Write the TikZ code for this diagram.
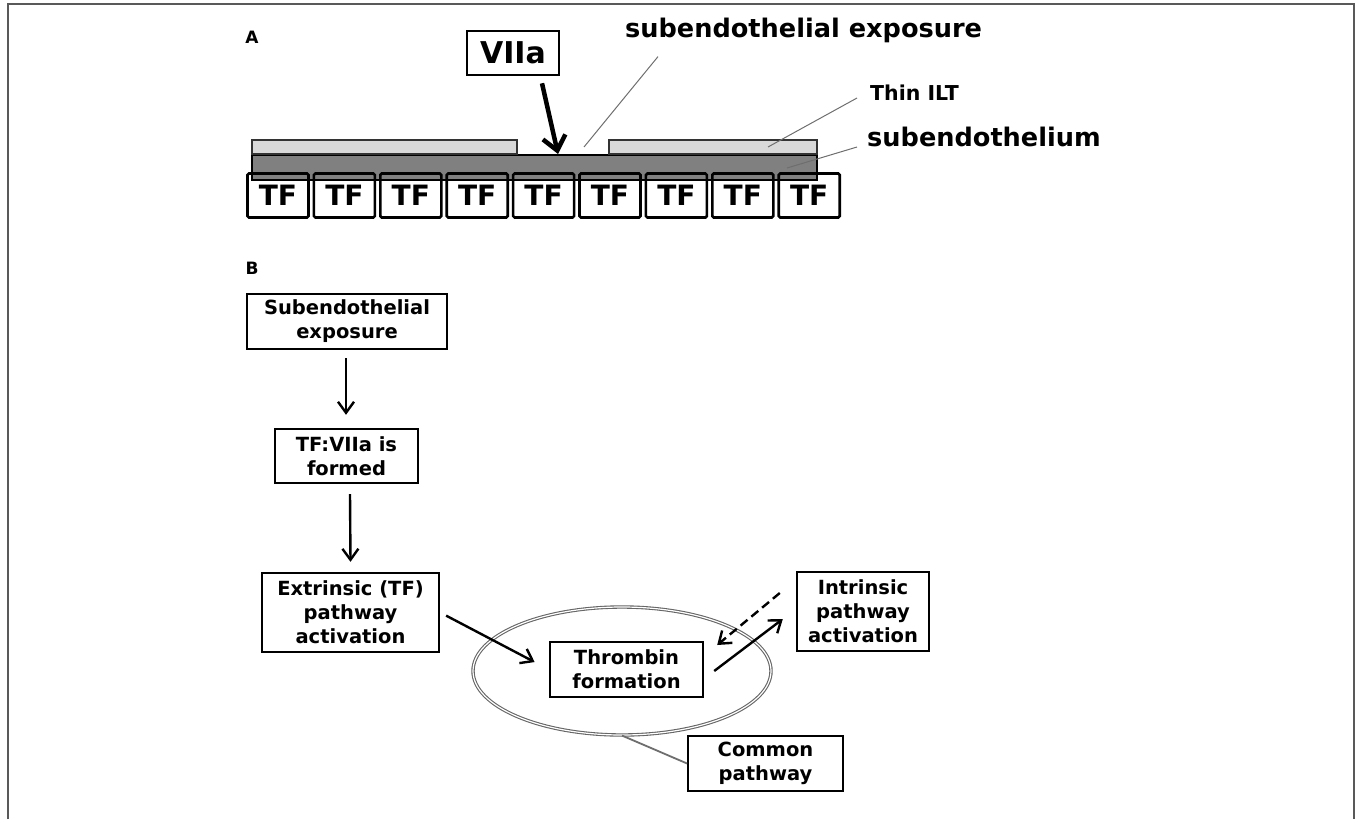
\documentclass[tikz,border=0pt]{standalone}
\usepackage{fontspec}
\setmainfont{DejaVu Sans}
\usepackage{tikz}
\usetikzlibrary{
  arrows.meta,
  shapes.geometric
}
\definecolor{ilt}{HTML}{D9D9D9}
\definecolor{subendo}{HTML}{808080}
\definecolor{leadergray}{HTML}{6E6E6E}
\tikzset{
  panel label/.style={
    font=\fontsize{17}{19}\selectfont\bfseries, inner sep=0pt
  },
  big label/.style={
    font=\fontsize{25.6}{30}\selectfont\bfseries, inner sep=0pt, anchor=west
  },
  flow box/.style={
    draw, line width=2.4pt, align=center, inner sep=0pt,
    font=\fontsize{19.5}{24}\selectfont\bfseries
  },
  tf box/.style={
    draw, line width=2.6pt, rounded corners=1.5pt, inner sep=0pt,
    minimum width=61pt, minimum height=44pt,
    font=\fontsize{28}{30}\selectfont\bfseries
  },
  flow arrow/.style={
    line width=2.4pt,
    -{Straight Barb[length=11pt,width=16pt,line width=2.4pt]}
  },
  leader line/.style={
    leadergray, line width=1pt
  },
  thin layer/.style={
    fill=ilt, draw=black!80, line width=1.4pt
  },
  thick layer/.style={
    fill=subendo, draw=black, line width=2pt
  }
}

\begin{document}
\begin{tikzpicture}[x=1pt,y=-1pt]
\useasboundingbox (0,0) rectangle (1356,819);
\draw[black!65, line width=2pt] (8,819) -- (8,4) -- (1354,4) -- (1354,819);

% A: vessel wall
\node[panel label] (lab-a) at (252,37) {A};
\draw[thick layer] (252,155) rectangle (817,180);
\draw[thin layer] (252,140) rectangle (517,154);
\draw[thin layer] (609,140) rectangle (817,154);
\foreach \i in {0,...,8}
  \node[tf box] (tf\i) at (278+66.4*\i,195.5) {TF};

\node[draw, line width=2.6pt, minimum width=92pt, minimum height=44pt, inner sep=0pt,
  font=\fontsize{30}{32}\selectfont\bfseries] (vii) at (513,53) {VIIa};
\coordinate (site) at (558,154);
\draw[line width=4.5pt, -{Straight Barb[length=14pt,width=23pt,line width=4.5pt]}]
  ([xshift=29pt,yshift=-7pt]vii.south) -- (site);

\node[big label] (expo) at (625,30) {subendothelial exposure};
\node[font=\fontsize{20.5}{24}\selectfont\bfseries, inner sep=0pt, anchor=west] (ilt) at (870,93) {Thin ILT};
\node[big label] (sube) at (867,137) {subendothelium};
\coordinate (gap) at (584,147);
\coordinate (on-ilt) at (768,147);
\coordinate (on-sube) at (787,168);
\draw[leader line] (gap) -- ([xshift=33pt,yshift=-14pt]expo.south west);
\draw[leader line] (on-ilt) -- ([xshift=-13pt,yshift=-5pt]ilt.west);
\draw[leader line] (on-sube) -- ([xshift=-10pt,yshift=-10pt]sube.west);

% B: flow of the cascade
\node[panel label] (lab-b) at (252,268) {B};
\node[flow box, minimum width=200pt, minimum height=55pt] (sub) at (347,321.5) {Subendothelial\\exposure};
\node[flow box, minimum width=143pt, minimum height=54pt] (tfvii) at (346.5,456) {TF:VIIa is\\formed};
\node[flow box, minimum width=177pt, minimum height=79pt] (ext) at (350.5,612.5) {Extrinsic (TF)\\pathway\\activation};
\node[draw=black!60, double=white, double distance=1.2pt, line width=1.1pt, ellipse,
  minimum width=298pt, minimum height=128pt] (ring) at (622,671) {};
\node[flow box, minimum width=153pt, minimum height=55pt] (thr) at (626.5,669.5) {Thrombin\\formation};
\node[flow box, minimum width=132pt, minimum height=79pt] (intr) at (863,611.5) {Intrinsic\\pathway\\activation};
\node[flow box, line width=1.8pt, minimum width=155pt, minimum height=55pt] (common) at (765.5,763.5) {Common\\pathway};

\draw[flow arrow] ([xshift=-1pt]sub.south) ++(0,8) -- ([xshift=-0.5pt,yshift=13pt]tfvii.north);
\draw[flow arrow] ([xshift=3.5pt,yshift=-10pt]tfvii.south) -- ([yshift=10pt]ext.north);
\draw[flow arrow, shorten <=6.7pt, shorten >=16pt] (ext.east) -- (thr.west);
\draw[flow arrow] ([xshift=10pt,yshift=-1.5pt]thr.east) -- ([xshift=-13pt,yshift=-7.5pt]intr.west);
\draw[flow arrow, dash pattern=on 9pt off 5pt] ([xshift=-16pt,yshift=18.5pt]intr.west) -- ([xshift=13pt,yshift=24.5pt]thr.east);
\draw[leader line, line width=1.8pt] (ring.south) -- (common.west);
\end{tikzpicture}
\end{document}
